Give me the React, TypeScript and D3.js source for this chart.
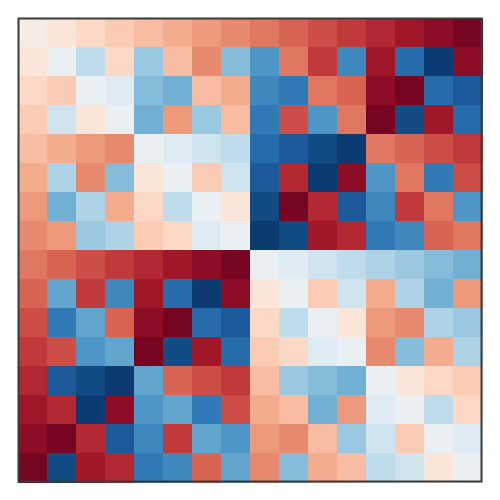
import React from 'react';
import * as d3 from 'd3';

const width = 500;
const height = 500;
const margin = { top: 18, right: 18, bottom: 18, left: 18 };

// row / column ids of the matrix
const rowIds = d3.range(16);
const colIds = d3.range(16);

// cell values (red positive, blue negative)
const values: number[][] = [
  [0.06, 0.12, 0.19, 0.25, 0.31, 0.37, 0.43, 0.48, 0.53, 0.59, 0.65, 0.71, 0.77, 0.84, 0.9, 0.96],
  [0.12, -0.06, -0.25, 0.19, -0.37, 0.31, 0.48, -0.43, -0.59, 0.53, 0.71, -0.65, 0.84, -0.77, -0.96, 0.9],
  [0.19, 0.25, -0.06, -0.12, -0.43, -0.48, 0.31, 0.37, -0.65, -0.71, 0.53, 0.59, 0.9, 0.96, -0.77, -0.84],
  [0.25, -0.19, 0.12, -0.06, -0.48, 0.43, -0.37, 0.31, -0.71, 0.65, -0.59, 0.53, 0.96, -0.9, 0.84, -0.77],
  [0.31, 0.37, 0.43, 0.48, -0.06, -0.12, -0.19, -0.25, -0.77, -0.84, -0.9, -0.96, 0.53, 0.59, 0.65, 0.71],
  [0.37, -0.31, 0.48, -0.43, 0.12, -0.06, 0.25, -0.19, -0.84, 0.77, -0.96, 0.9, -0.59, 0.53, -0.71, 0.65],
  [0.43, -0.48, -0.31, 0.37, 0.19, -0.25, -0.06, 0.12, -0.9, 0.96, 0.77, -0.84, -0.65, 0.71, 0.53, -0.59],
  [0.48, 0.43, -0.37, -0.31, 0.25, 0.19, -0.12, -0.06, -0.96, -0.9, 0.84, 0.77, -0.71, -0.65, 0.59, 0.53],
  [0.53, 0.59, 0.65, 0.71, 0.77, 0.84, 0.9, 0.96, -0.06, -0.12, -0.19, -0.25, -0.31, -0.37, -0.43, -0.48],
  [0.59, -0.53, 0.71, -0.65, 0.84, -0.77, -0.96, 0.9, 0.12, -0.06, 0.25, -0.19, 0.37, -0.31, -0.48, 0.43],
  [0.65, -0.71, -0.53, 0.59, 0.9, 0.96, -0.77, -0.84, 0.19, -0.25, -0.06, 0.12, 0.43, 0.48, -0.31, -0.37],
  [0.71, 0.65, -0.59, -0.53, 0.96, -0.9, 0.84, -0.77, 0.25, 0.19, -0.12, -0.06, 0.48, -0.43, 0.37, -0.31],
  [0.77, -0.84, -0.9, -0.96, -0.53, 0.59, 0.65, 0.71, 0.31, -0.37, -0.43, -0.48, -0.06, 0.12, 0.19, 0.25],
  [0.84, 0.77, -0.96, 0.9, -0.59, -0.53, -0.71, 0.65, 0.37, 0.31, -0.48, 0.43, -0.12, -0.06, -0.25, 0.19],
  [0.9, 0.96, 0.77, -0.84, -0.65, 0.71, -0.53, -0.59, 0.43, 0.48, 0.31, -0.37, -0.19, 0.25, -0.06, -0.12],
  [0.96, -0.9, 0.84, 0.77, -0.71, -0.65, 0.59, -0.53, 0.48, -0.43, 0.37, 0.31, -0.25, -0.19, 0.12, -0.06],
];

export default function App() {
  const x = d3.scaleBand<number>().domain(colIds).range([margin.left, width - margin.right]);
  const y = d3.scaleBand<number>().domain(rowIds).range([margin.top, height - margin.bottom]);
  const color = d3.scaleSequential(d3.interpolateRdBu).domain([1, -1]);

  const cells: { r: number; c: number; v: number }[] = [];
  rowIds.forEach((r) => colIds.forEach((c) => cells.push({ r, c, v: values[r][c] })));

  return (
    <svg
      width={width}
      height={height}
      style={{ position: 'absolute', left: 0, top: 0, background: '#fff' }}
    >
      <g shapeRendering="crispEdges">
        {cells.map((d) => (
          <rect
            key={d.r + '-' + d.c}
            x={x(d.c)}
            y={y(d.r)}
            width={x.bandwidth() + 0.5}
            height={y.bandwidth() + 0.5}
            fill={color(d.v)}
          />
        ))}
      </g>
      {/* frame round the plot area */}
      <rect
        x={margin.left + 0.5}
        y={margin.top + 0.5}
        width={width - margin.left - margin.right - 1}
        height={height - margin.top - margin.bottom - 1}
        fill="none"
        stroke="#3a3a3a"
        strokeWidth={2}
      />
    </svg>
  );
}
